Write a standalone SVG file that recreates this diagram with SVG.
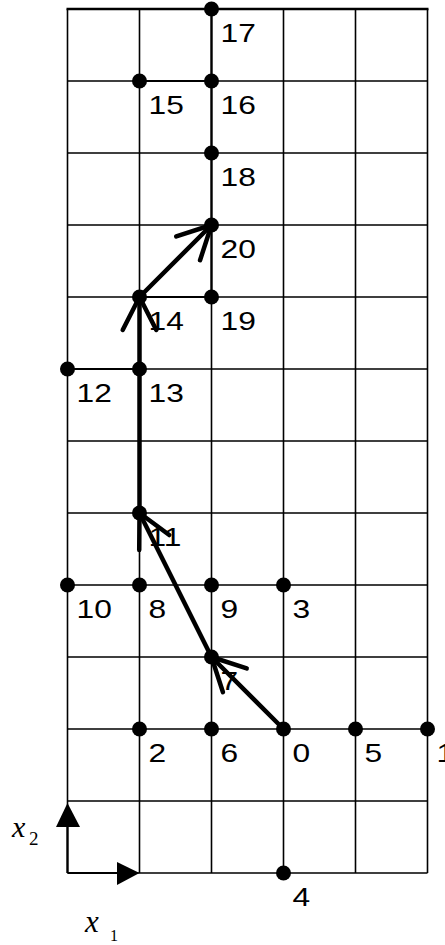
<svg xmlns="http://www.w3.org/2000/svg" width="445" height="945" viewBox="0 0 445 945">
<style>
.grid{stroke:#000;stroke-width:1.6;fill:none}
.edge{stroke:#000;stroke-width:2.2;fill:none}
.path{stroke:#000;stroke-width:4.5;fill:none;stroke-linecap:round}
.dot{fill:#000}
.lbl{font-family:"Liberation Sans",Arial,sans-serif;font-size:25px;fill:#000}
.ax{font-family:"Liberation Serif","Times New Roman",serif;fill:#000}
</style>
<defs>
<marker id="ah" markerUnits="userSpaceOnUse" orient="auto" markerWidth="80" markerHeight="80" viewBox="-40 -40 80 80" refX="0" refY="0" overflow="visible">
<path d="M-33,-16.8 L0,0 L-33,16.8" fill="none" stroke="#000" stroke-width="4.5" stroke-linecap="round" stroke-linejoin="round"/>
</marker>
</defs>
<g id="grid">
<path class="grid" d="M67.5,9V873M139.5,9V873M211.5,9V873M283.5,9V873M355.5,9V873M427.5,9V873"/>
<path class="grid" d="M67.5,81H427.5M67.5,153H427.5M67.5,225H427.5M67.5,297H427.5M67.5,369H427.5M67.5,441H427.5M67.5,513H427.5M67.5,585H427.5M67.5,657H427.5M67.5,729H427.5M67.5,801H427.5M67.5,873H427.5"/>
<path d="M66.5,9H428.5" stroke="#000" stroke-width="2.6"/>
</g>
<g id="edges">
<path class="edge" d="M211.5,9V225M139.5,81H211.5M139.5,297H211.5V225M67.5,369H139.5"/>
</g>
<g id="axes">
<path class="edge" d="M67.5,873V810M67.5,873H125"/>
<polygon points="67.5,803 56,827 80,827" fill="#000"/>
<polygon points="139.5,873 117,862 117,885" fill="#000"/>
<g id="axis-x2"><text class="ax" x="12" y="837" font-size="30" font-style="italic">x</text><text class="ax" x="29" y="845" font-size="19">2</text></g>
<g id="axis-x1"><text class="ax" x="85" y="932" font-size="31" font-style="italic">x</text><text class="ax" x="110" y="941" font-size="16">1</text></g>
</g>
<g id="labels">
<text class="lbl" transform="translate(220.5,42) scale(1.27,1)">17</text>
<text class="lbl" transform="translate(148.5,114) scale(1.27,1)">15</text>
<text class="lbl" transform="translate(220.5,114) scale(1.27,1)">16</text>
<text class="lbl" transform="translate(220.5,186) scale(1.27,1)">18</text>
<text class="lbl" transform="translate(220.5,258) scale(1.27,1)">20</text>
<text class="lbl" transform="translate(148.5,330) scale(1.27,1)">14</text>
<text class="lbl" transform="translate(220.5,330) scale(1.27,1)">19</text>
<text class="lbl" transform="translate(76.5,402) scale(1.27,1)">12</text>
<text class="lbl" transform="translate(148.5,402) scale(1.27,1)">13</text>
<text class="lbl" transform="translate(148.5,546) scale(1.27,1)">11</text>
<text class="lbl" transform="translate(76.5,618) scale(1.27,1)">10</text>
<text class="lbl" transform="translate(148.5,618) scale(1.27,1)">8</text>
<text class="lbl" transform="translate(220.5,618) scale(1.27,1)">9</text>
<text class="lbl" transform="translate(292.5,618) scale(1.27,1)">3</text>
<text class="lbl" transform="translate(220.5,690) scale(1.27,1)">7</text>
<text class="lbl" transform="translate(148.5,762) scale(1.27,1)">2</text>
<text class="lbl" transform="translate(220.5,762) scale(1.27,1)">6</text>
<text class="lbl" transform="translate(292.5,762) scale(1.27,1)">0</text>
<text class="lbl" transform="translate(364.5,762) scale(1.27,1)">5</text>
<text class="lbl" transform="translate(436.5,762) scale(1.27,1)">1</text>
<text class="lbl" transform="translate(292.5,906) scale(1.27,1)">4</text>
</g>
<g id="connectors">
<line class="path" x1="283.5" y1="729" x2="211.5" y2="657" marker-end="url(#ah)"/>
<line class="path" x1="211.5" y1="657" x2="139.5" y2="513" marker-end="url(#ah)"/>
<line class="path" x1="139.5" y1="513" x2="139.5" y2="297" marker-end="url(#ah)"/>
<line class="path" x1="139.5" y1="297" x2="211.5" y2="225" marker-end="url(#ah)"/>
</g>
<g id="nodes">
<circle id="n17" class="dot" cx="211.5" cy="9" r="7.5"/>
<circle id="n15" class="dot" cx="139.5" cy="81" r="7.5"/>
<circle id="n16" class="dot" cx="211.5" cy="81" r="7.5"/>
<circle id="n18" class="dot" cx="211.5" cy="153" r="7.5"/>
<circle id="n20" class="dot" cx="211.5" cy="225" r="7.5"/>
<circle id="n14" class="dot" cx="139.5" cy="297" r="7.5"/>
<circle id="n19" class="dot" cx="211.5" cy="297" r="7.5"/>
<circle id="n12" class="dot" cx="67.5" cy="369" r="7.5"/>
<circle id="n13" class="dot" cx="139.5" cy="369" r="7.5"/>
<circle id="n11" class="dot" cx="139.5" cy="513" r="7.5"/>
<circle id="n10" class="dot" cx="67.5" cy="585" r="7.5"/>
<circle id="n8" class="dot" cx="139.5" cy="585" r="7.5"/>
<circle id="n9" class="dot" cx="211.5" cy="585" r="7.5"/>
<circle id="n3" class="dot" cx="283.5" cy="585" r="7.5"/>
<circle id="n7" class="dot" cx="211.5" cy="657" r="7.5"/>
<circle id="n2" class="dot" cx="139.5" cy="729" r="7.5"/>
<circle id="n6" class="dot" cx="211.5" cy="729" r="7.5"/>
<circle id="n0" class="dot" cx="283.5" cy="729" r="7.5"/>
<circle id="n5" class="dot" cx="355.5" cy="729" r="7.5"/>
<circle id="n1" class="dot" cx="427.5" cy="729" r="7.5"/>
<circle id="n4" class="dot" cx="283.5" cy="873" r="7.5"/>
</g>
</svg>
